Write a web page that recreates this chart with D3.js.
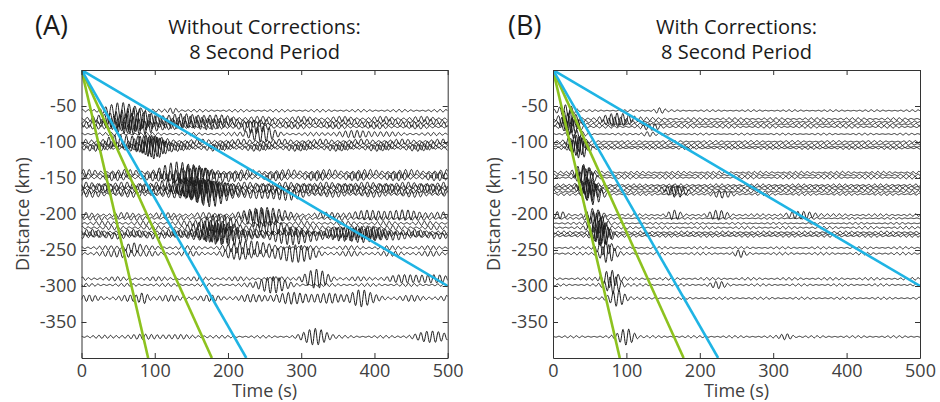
<!DOCTYPE html>
<html>
<head>
<meta charset="utf-8">
<script src="https://cdn.jsdelivr.net/npm/d3@7"></script>
<style>
  body { margin: 0; background: #fff; }
  text { font-family: "Open Sans", sans-serif; }
</style>
</head>
<body>
<script>
// station distances (km), same stations in both panels
var distances = [-56.5, -68, -72, -75.5, -79, -89, -99.5, -103, -106.5, -108.5,
                 -142.5, -146, -149.5, -160, -162.5, -165.5, -169, -172.5,
                 -201.5, -206, -213, -219, -225.5, -228, -230.5, -247, -255,
                 -290, -298.5, -317, -370.5];
// starting phase of each trace (rad)
var phases = [0.3, 1.7, 4.1, 2.6, 5.2, 0.9, 3.3, 1.2, 4.8, 2.1, 5.9, 0.5, 3.7, 2.9, 1.4, 4.4,
              0.2, 5.5, 3.0, 1.9, 4.6, 0.7, 2.4, 5.0, 3.6, 1.1, 4.2, 0.4, 2.8, 5.7, 1.6];
// background wiggle amplitude of each trace (km)
var bgA = [1.8, 3.8, 3.8, 3.8, 3, 2.2, 3.8, 3.8, 4.5, 4.5, 4.5, 4.5, 4.5, 4.5, 5, 5,
           4.5, 4.5, 3.8, 3, 3, 3, 4.5, 4.5, 4.5, 3, 3.8, 3, 2.2, 4.5, 1.8];
var bgB = [1.2, 1.8, 1.8, 1.8, 1.8, 1.2, 1.5, 1.8, 1.8, 1.8, 1.8, 1.8, 1.8, 1.8, 1.8, 1.8,
           1.8, 1.8, 1.8, 1.2, 1.2, 1.8, 1.8, 1.8, 1.8, 1.5, 1.8, 1.8, 1.5, 1.5, 1.5];

// wave packets: [trace index, centre time (s), half width (s), amplitude (km)]
var packetsA = [
  [0, 55, 25, 10], [0, 125, 8, 3.5],
  [1, 65, 30, 13], [1, 150, 50, 4.5],
  [2, 70, 30, 11], [2, 150, 50, 4.5],
  [3, 60, 25, 10], [3, 160, 50, 4.5],
  [4, 80, 30, 9], [4, 235, 20, 7],
  [5, 245, 20, 10], [5, 380, 40, 3.5],
  [6, 80, 30, 7], [6, 45, 15, 4.5],
  [7, 90, 25, 10],
  [8, 100, 18, 13],
  [9, 100, 15, 14],
  [10, 135, 25, 13],
  [11, 150, 30, 11],
  [12, 160, 35, 10],
  [13, 145, 30, 10],
  [14, 155, 30, 11],
  [15, 165, 35, 11],
  [16, 170, 30, 13],
  [17, 175, 30, 14], [17, 270, 30, 6],
  [18, 250, 25, 10], [18, 420, 60, 4.5],
  [19, 245, 25, 11],
  [20, 185, 25, 11],
  [21, 180, 25, 10], [21, 260, 25, 7],
  [22, 175, 25, 10], [22, 380, 40, 6],
  [23, 190, 30, 11], [23, 370, 40, 7],
  [24, 200, 30, 10], [24, 290, 25, 11], [24, 390, 35, 6],
  [25, 230, 25, 9], [25, 70, 12, 6],
  [26, 290, 25, 11], [26, 220, 20, 7], [26, 60, 15, 4.5],
  [27, 320, 18, 11], [27, 460, 40, 4.5],
  [28, 260, 20, 11],
  [29, 380, 15, 9], [29, 85, 8, 6], [29, 300, 60, 4.5],
  [30, 320, 18, 11], [30, 480, 25, 7], [30, 100, 60, 2.2]
];
var packetsB = [
  [0, 18, 12, 8], [0, 145, 8, 3.5],
  [1, 20, 12, 12], [1, 90, 25, 7],
  [2, 22, 12, 12], [2, 85, 20, 5.5],
  [3, 24, 12, 11],
  [4, 26, 12, 10], [4, 135, 15, 3.5],
  [5, 30, 12, 5.5], [5, 130, 10, 3],
  [6, 30, 12, 10],
  [7, 32, 12, 11],
  [8, 35, 12, 12],
  [9, 38, 12, 14],
  [10, 40, 12, 11],
  [11, 42, 12, 12],
  [12, 45, 12, 11],
  [13, 45, 12, 10],
  [14, 48, 12, 11],
  [15, 50, 12, 12], [15, 165, 15, 5.5],
  [16, 52, 12, 12], [16, 170, 15, 7],
  [17, 55, 12, 14], [17, 230, 15, 4],
  [18, 55, 12, 8], [18, 165, 10, 5.5], [18, 225, 15, 5.5], [18, 340, 25, 4], [18, 10, 10, 4],
  [19, 58, 12, 10],
  [20, 60, 12, 14],
  [21, 62, 12, 14],
  [22, 64, 12, 15],
  [23, 66, 12, 15],
  [24, 68, 12, 14],
  [25, 70, 12, 10],
  [26, 74, 12, 12], [26, 255, 8, 4],
  [27, 78, 12, 12],
  [28, 82, 12, 12], [28, 225, 12, 4],
  [29, 88, 12, 11],
  [30, 100, 12, 11], [30, 318, 10, 3.5]
];

// travel-time lines from the origin, end points [time (s), distance (km)]
var greenEnds = [[91, -400], [178, -400]];
var blueEnds = [[225, -400], [500, -300]];

var xTicks = [0, 100, 200, 300, 400, 500];
var yTicks = [-350, -300, -250, -200, -150, -100, -50];
var period = 8;

//positioning/sizing
var svg_dx = 940, svg_dy = 402,
    plotTop = 70, plotBottom = 358;

var panels = [
  {id: "A", left: 81.5, right: 447.7, labelX: 35, title: "Without Corrections:", bg: bgA, packets: packetsA},
  {id: "B", left: 553, right: 920, labelX: 508, title: "With Corrections:", bg: bgB, packets: packetsB}
];

var svg = d3.select("body").append("svg")
    .attr("width", svg_dx)
    .attr("height", svg_dy);

var axisColor = "#333", labelColor = "#404040";

panels.forEach(function(p) {
  var x = d3.scaleLinear().domain([0, 500]).range([p.left, p.right]),
      y = d3.scaleLinear().domain([-400, 0]).range([plotBottom, plotTop]);
  var cx = (p.left + p.right) / 2;

  var g = svg.append("g");

  g.append("clipPath").attr("id", "clip" + p.id)
   .append("rect")
   .attr("x", p.left).attr("y", plotTop)
   .attr("width", p.right - p.left).attr("height", plotBottom - plotTop);

  // seismograms
  var times = d3.range(0, 500.001, 0.5);
  var line = d3.line().x(d => x(d[0])).y(d => y(d[1]));
  var traces = g.append("g").attr("clip-path", "url(#clip" + p.id + ")");

  distances.forEach(function(dist, i) {
    var own = p.packets.filter(k => k[0] == i);
    var pts = times.map(function(t) {
      var ph = 2 * Math.PI * t / period + phases[i];
      var a = p.bg[i] * (0.65 + 0.35 * Math.cos(2 * Math.PI * t / 55 + 2 * phases[i])) * Math.sin(ph);
      own.forEach(function(k) {
        a += k[3] * Math.exp(-Math.pow((t - k[1]) / k[2], 2)) * Math.sin(ph + 0.6);
      });
      return [t, dist + a];
    });
    traces.append("path")
      .attr("d", line(pts))
      .attr("fill", "none")
      .attr("stroke", "#1c1c1c")
      .attr("stroke-width", 1);
  });

  // travel-time lines
  var moveouts = g.append("g").attr("clip-path", "url(#clip" + p.id + ")");
  greenEnds.forEach(function(e) {
    moveouts.append("line")
      .attr("x1", x(0)).attr("y1", y(0)).attr("x2", x(e[0])).attr("y2", y(e[1]))
      .attr("stroke", "#8dc21f").attr("stroke-width", 2.6);
  });
  blueEnds.forEach(function(e) {
    moveouts.append("line")
      .attr("x1", x(0)).attr("y1", y(0)).attr("x2", x(e[0])).attr("y2", y(e[1]))
      .attr("stroke", "#1fb4e4").attr("stroke-width", 2.6);
  });

  // axes, ticks pointing inward on all four sides
  var axis_x = d3.axisBottom(x).tickValues(xTicks).tickSizeInner(-5).tickSizeOuter(0)
                 .tickPadding(6).tickFormat(d => String(d));
  var axis_y = d3.axisLeft(y).tickValues(yTicks).tickSizeInner(-5).tickSizeOuter(0)
                 .tickPadding(5).tickFormat(d => String(d));
  var axis_top = d3.axisTop(x).tickValues(xTicks).tickSizeInner(-5).tickSizeOuter(0).tickFormat("");
  var axis_right = d3.axisRight(y).tickValues(yTicks).tickSizeInner(-5).tickSizeOuter(0).tickFormat("");

  var gx = g.append("g").attr("transform", "translate(0," + plotBottom + ")").call(axis_x);
  var gy = g.append("g").attr("transform", "translate(" + p.left + ",0)").call(axis_y);
  var gt = g.append("g").attr("transform", "translate(0," + plotTop + ")").call(axis_top);
  var gr = g.append("g").attr("transform", "translate(" + p.right + ",0)").call(axis_right);

  [gx, gy, gt, gr].forEach(function(a) {
    a.selectAll("path, line").attr("stroke", axisColor).attr("stroke-width", 1);
    a.selectAll("text").attr("fill", labelColor)
     .style("font-size", "18px").style("font-family", "'Open Sans', sans-serif");
  });

  // titles and labels
  g.append("text").attr("x", cx).attr("y", 34).attr("text-anchor", "middle")
   .attr("fill", "#1a1a1a").style("font-size", "20px").text(p.title);
  g.append("text").attr("x", cx).attr("y", 59).attr("text-anchor", "middle")
   .attr("fill", "#1a1a1a").style("font-size", "20px").text("8 Second Period");
  g.append("text").attr("x", p.labelX).attr("y", 35)
   .attr("fill", "#1a1a1a").style("font-size", "27px").text("(" + p.id + ")");
  g.append("text").attr("x", cx).attr("y", 397).attr("text-anchor", "middle")
   .attr("fill", labelColor).style("font-size", "18px").text("Time (s)");
  g.append("text")
   .attr("transform", "translate(" + (p.left - 53) + "," + ((plotTop + plotBottom) / 2) + ") rotate(-90)")
   .attr("text-anchor", "middle")
   .attr("fill", labelColor).style("font-size", "18px").text("Distance (km)");
});
</script>
</body>
</html>
